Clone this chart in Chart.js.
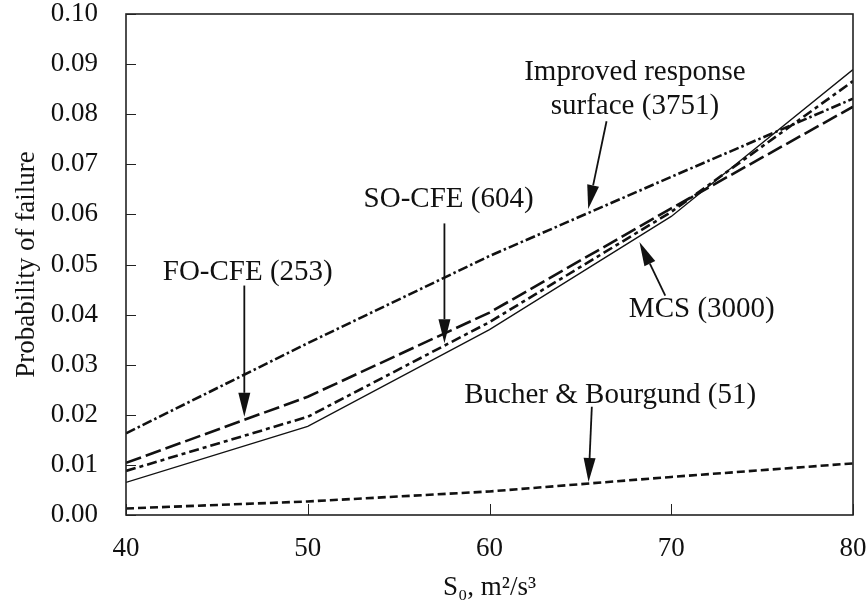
<!DOCTYPE html>
<html>
<head>
<meta charset="utf-8">
<script src="https://cdn.jsdelivr.net/npm/chart.js@4.4.1/dist/chart.umd.min.js"></script>
<style>
  body { margin: 0; background: #fff; }
  #wrap { width: 867px; height: 608px; }
</style>
</head>
<body>
<div id="wrap"><canvas id="chart"></canvas></div>
<script>
const S0 = [40, 50, 60, 70, 80];
const IMPROVED = [0.0163, 0.0343, 0.0517, 0.0675, 0.0831];
const FO_CFE = [0.0104, 0.0236, 0.0404, 0.0612, 0.0815];
const SO_CFE = [0.0088, 0.0196, 0.0385, 0.0605, 0.0866];
const MCS = [0.0065, 0.0177, 0.0370, 0.0596, 0.0889];
const BUCHER = [0.0013, 0.0027, 0.0047, 0.0076, 0.0103];

const FONT = "'Liberation Serif', 'Times New Roman', serif";
const INK = '#111';

// labels + arrows, placed in data units (x = S0, y = probability)
const notes = [
  { lines: ['Improved response', 'surface (3751)'], x: 68.0, y: 0.0868, tail: [66.44, 0.0786], tip: [65.43, 0.0611] },
  { lines: ['SO-CFE (604)'], x: 57.75, y: 0.0614, tail: [57.52, 0.0582], tip: [57.52, 0.0343] },
  { lines: ['FO-CFE (253)'], x: 46.7, y: 0.0470, tail: [46.51, 0.0458], tip: [46.51, 0.0196] },
  { lines: ['MCS (3000)'], x: 71.68, y: 0.0396, tail: [69.67, 0.0438], tip: [68.25, 0.0545] },
  { lines: ['Bucher & Bourgund (51)'], x: 66.64, y: 0.0223, tail: [65.63, 0.0216], tip: [65.45, 0.0066] }
];

const pts = ys => S0.map((x, i) => ({ x: x, y: ys[i] }));

const frame = {
  id: 'frame',
  afterDraw(chart) {
    const { ctx, chartArea: a, scales: { x, y } } = chart;
    ctx.save();
    ctx.strokeStyle = '#222';
    ctx.lineWidth = 1.6;
    ctx.strokeRect(a.left, a.top, a.right - a.left, a.bottom - a.top);

    // inward ticks on left and bottom
    ctx.lineWidth = 1;
    ctx.beginPath();
    y.ticks.forEach(t => {
      const py = Math.round(y.getPixelForValue(t.value)) + 0.5;
      ctx.moveTo(a.left, py);
      ctx.lineTo(a.left + 10, py);
    });
    x.ticks.forEach(t => {
      const px = Math.round(x.getPixelForValue(t.value)) + 0.5;
      ctx.moveTo(px, a.bottom);
      ctx.lineTo(px, a.bottom - 11);
    });
    ctx.stroke();

    // annotations
    ctx.fillStyle = INK;
    ctx.strokeStyle = INK;
    ctx.font = '29px ' + FONT;
    ctx.textAlign = 'center';
    ctx.textBaseline = 'alphabetic';
    notes.forEach(n => {
      const cx = x.getPixelForValue(n.x);
      const by = y.getPixelForValue(n.y);
      n.lines.forEach((s, i) => ctx.fillText(s, cx, by + i * 34));

      const tx = x.getPixelForValue(n.tail[0]), ty = y.getPixelForValue(n.tail[1]);
      const hx = x.getPixelForValue(n.tip[0]), hy = y.getPixelForValue(n.tip[1]);
      const ang = Math.atan2(hy - ty, hx - tx);
      const len = 24, half = 6;
      const bx = hx - len * Math.cos(ang), byy = hy - len * Math.sin(ang);
      ctx.lineWidth = 1.8;
      ctx.beginPath();
      ctx.moveTo(tx, ty);
      ctx.lineTo(bx, byy);
      ctx.stroke();
      ctx.beginPath();
      ctx.moveTo(hx, hy);
      ctx.lineTo(bx + half * Math.sin(ang), byy - half * Math.cos(ang));
      ctx.lineTo(bx - half * Math.sin(ang), byy + half * Math.cos(ang));
      ctx.closePath();
      ctx.fill();
    });
    ctx.restore();
  }
};

new Chart(document.getElementById('chart'), {
  type: 'line',
  data: {
    datasets: [
      { label: 'Improved response surface (3751)', data: pts(IMPROVED), borderColor: INK, borderWidth: 2.6, borderDash: [10, 3, 2.5, 3] },
      { label: 'FO-CFE (253)', data: pts(FO_CFE), borderColor: INK, borderWidth: 2.6, borderDash: [16, 5] },
      { label: 'SO-CFE (604)', data: pts(SO_CFE), borderColor: INK, borderWidth: 2.6, borderDash: [10, 4, 4, 4] },
      { label: 'MCS (3000)', data: pts(MCS), borderColor: INK, borderWidth: 1.3 },
      { label: 'Bucher & Bourgund (51)', data: pts(BUCHER), borderColor: INK, borderWidth: 2.6, borderDash: [8, 4] }
    ]
  },
  options: {
    responsive: true,
    maintainAspectRatio: false,
    animation: false,
    layout: { padding: { top: 14, right: 14, left: 0, bottom: 0 } },
    elements: { point: { radius: 0 }, line: { tension: 0, borderCapStyle: 'butt' } },
    plugins: { legend: { display: false }, tooltip: { enabled: false } },
    scales: {
      x: {
        type: 'linear',
        min: 40,
        max: 80,
        grid: { display: false },
        border: { display: false },
        ticks: { stepSize: 10, padding: 10, color: INK, font: { family: FONT, size: 27 } },
        title: { display: true, text: 'S\u2080, m\u00b2/s\u00b3', color: INK, font: { family: FONT, size: 27 }, padding: { top: 2 } },
        afterFit(s) { s.height = 93; s.paddingLeft = 0; s.paddingRight = 0; }
      },
      y: {
        min: 0,
        max: 0.1,
        grid: { display: false },
        border: { display: false },
        ticks: {
          stepSize: 0.01,
          padding: 20,
          color: INK,
          font: { family: FONT, size: 27 },
          callback: v => v.toFixed(2)
        },
        title: { display: true, text: 'Probability of failure', color: INK, font: { family: FONT, size: 27 }, padding: { top: 11, bottom: 0 } },
        afterFit(s) { s.width = 126; s.paddingTop = 0; s.paddingBottom = 0; }
      }
    }
  },
  plugins: [frame]
});
</script>
</body>
</html>
